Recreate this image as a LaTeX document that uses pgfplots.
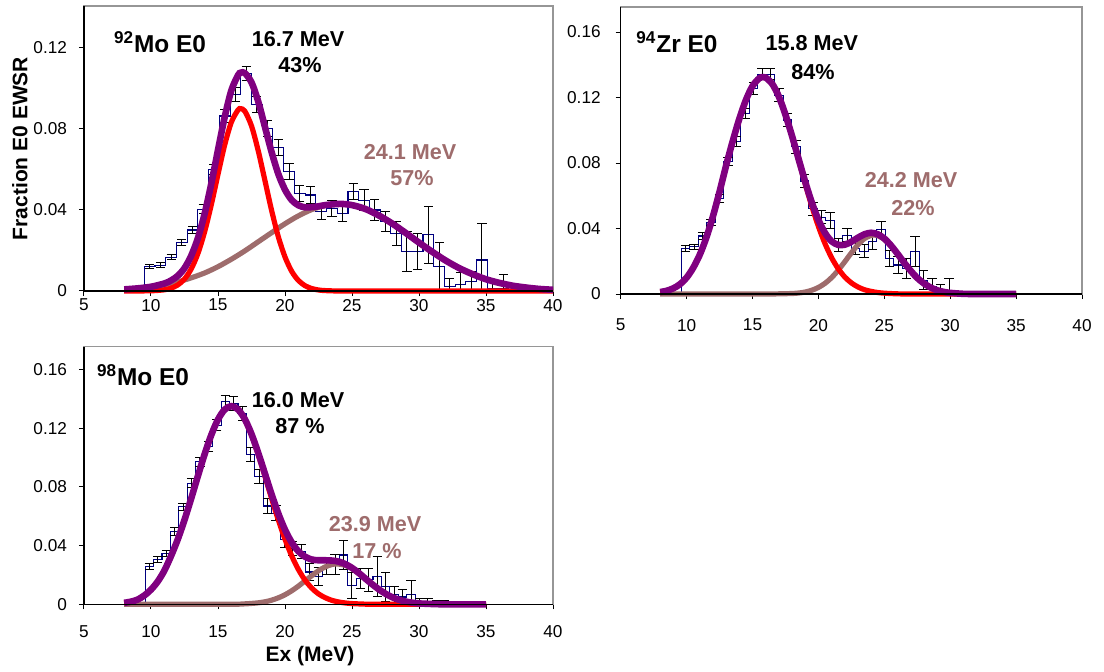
\documentclass[border=0pt]{standalone}
\usepackage{pgfplots}
\pgfplotsset{compat=1.18}
\usepackage{pgfplotstable}
\usepackage{fontspec}
\setmainfont{Liberation Sans}

\definecolor{histblue}{RGB}{0,0,128}
\definecolor{fitred}{RGB}{255,0,0}
\definecolor{fitbrown}{RGB}{158,108,108}
\definecolor{fitpurple}{RGB}{128,0,128}
\definecolor{framegray}{RGB}{150,150,150}

% 92Mo: bins 0.8 MeV wide, E = bin centre, e = error up, m = error down
\pgfplotstableread{
E     v       e       m
9.9   0       0       0
9.9   0.0120  0.0010  0.0010
10.7  0.0128  0.0012  0.0012
11.5  0.0166  0.0012  0.0012
12.3  0.0240  0.0015  0.0015
13.1  0.0301  0.0018  0.0018
13.9  0.0403  0.0022  0.0022
14.7  0.0598  0.0025  0.0025
15.5  0.0864  0.0030  0.0030
16.3  0.0970  0.0035  0.0035
17.1  0.1075  0.0035  0.0035
17.9  0.0920  0.0040  0.0040
18.7  0.0803  0.0040  0.0040
19.5  0.0710  0.0040  0.0040
20.3  0.0589  0.0040  0.0040
21.1  0.0482  0.0040  0.0040
21.9  0.0474  0.0040  0.0040
22.7  0.0392  0.0040  0.0040
23.5  0.0408  0.0040  0.0040
24.3  0.0384  0.0040  0.0040
25.1  0.0491  0.0040  0.0040
25.9  0.0449  0.0050  0.0050
26.7  0.0400  0.0050  0.0050
27.5  0.0342  0.0050  0.0050
28.3  0.0285  0.0060  0.0060
29.1  0.0194  0.0100  0.0100
29.9  0.0194  0.0090  0.0090
30.7  0.0277  0.0140  0.0140
31.5  0.0120  0.0120  0.0120
32.3  0.0020  0.0040  0.0020
33.1  0.0030  0.0060  0.0030
33.9  0.0046  0.0050  0.0046
34.7  0.0153  0.0180  0.0153
35.5  0.0010  0.0030  0.0010
36.3  0.0010  0.0070  0.0010
37.1  0       0       0
}\histMoA

% 94Zr: bins 0.645 MeV wide
\pgfplotstableread{
E       v       e       m
9.92    0       0       0
9.92    0.0279  0.0020  0.0020
10.565  0.0289  0.0015  0.0015
11.21   0.0354  0.0020  0.0020
11.855  0.0436  0.0020  0.0020
12.50   0.0584  0.0025  0.0025
13.145  0.0808  0.0025  0.0025
13.79   0.0930  0.0030  0.0030
14.435  0.1100  0.0030  0.0030
15.08   0.1256  0.0035  0.0035
15.725  0.1343  0.0035  0.0035
16.37   0.1343  0.0035  0.0035
17.015  0.1215  0.0040  0.0040
17.66   0.1063  0.0040  0.0040
18.305  0.0900  0.0040  0.0040
18.95   0.0690  0.0040  0.0040
19.595  0.0520  0.0040  0.0040
20.24   0.0470  0.0040  0.0040
20.885  0.0450  0.0050  0.0050
21.53   0.0300  0.0040  0.0040
22.175  0.0360  0.0040  0.0040
22.82   0.0280  0.0040  0.0040
23.465  0.0260  0.0040  0.0040
24.11   0.0320  0.0050  0.0050
24.755  0.0395  0.0050  0.0050
25.40   0.0218  0.0050  0.0050
26.045  0.0177  0.0050  0.0050
26.69   0.0157  0.0060  0.0060
27.335  0.0260  0.0090  0.0090
27.98   0.0085  0.0060  0.0060
28.625  0.0045  0.0050  0.0045
29.27   0.0020  0.0040  0.0020
29.915  0.0005  0.0090  0.0005
30.56   0       0       0
}\histZr

% 98Mo: bins 0.63 MeV wide
\pgfplotstableread{
E       v       e       m
9.875   0       0       0
9.875   0.0257  0.0020  0.0020
10.505  0.0306  0.0020  0.0020
11.135  0.0347  0.0020  0.0020
11.765  0.0495  0.0025  0.0025
12.395  0.0665  0.0025  0.0025
13.025  0.0824  0.0030  0.0030
13.655  0.0972  0.0030  0.0030
14.285  0.1074  0.0035  0.0035
14.915  0.1221  0.0040  0.0040
15.545  0.1380  0.0045  0.0045
16.175  0.1369  0.0050  0.0050
16.805  0.1301  0.0050  0.0050
17.435  0.1020  0.0050  0.0050
18.065  0.0870  0.0050  0.0050
18.695  0.0670  0.0050  0.0050
19.325  0.0620  0.0050  0.0050
19.955  0.0440  0.0050  0.0050
20.585  0.0380  0.0050  0.0050
21.215  0.0360  0.0050  0.0050
21.845  0.0220  0.0060  0.0060
22.475  0.0190  0.0060  0.0060
23.105  0.0260  0.0060  0.0060
23.735  0.0270  0.0070  0.0070
24.365  0.0336  0.0100  0.0100
24.995  0.0130  0.0090  0.0090
25.625  0.0177  0.0070  0.0070
26.255  0.0166  0.0080  0.0080
26.885  0.0190  0.0135  0.0135
27.515  0.0120  0.0100  0.0100
28.145  0.0064  0.0060  0.0060
28.775  0.0050  0.0050  0.0050
29.405  0.0064  0.0100  0.0064
30.035  0.0010  0.0030  0.0010
30.665  0.0010  0.0030  0.0010
31.295  0.0005  0.0020  0.0005
31.925  0.0005  0.0020  0.0005
32.555  0       0       0
}\histMoB

\tikzset{
  bigtxt/.style={font=\fontsize{12.2}{14}\selectfont\bfseries},
  midtxt/.style={font=\fontsize{10.8}{13}\selectfont\bfseries},
}

\pgfplotsset{
  panel/.style={
    scale only axis, anchor=south west, clip=false,
    xmin=5, xmax=40, ymin=0,
    xtick={5,10,15,20,25,30,35,40},
    xticklabels={5,10,15,20,25,30,35,40},
    tick align=outside, xtick pos=left, ytick pos=left,
    major tick length=2.5pt,
    tick style={black, line width=0.5pt},
    axis line style={framegray, line width=0.6pt},
    ticklabel style={font=\fontsize{8.6}{10}\selectfont},
    /pgf/number format/assume math mode=true,
  },
  hist/.style={histblue, line width=0.55pt, const plot mark left, mark=none},
  errb/.style={draw=none, mark=none,
    error bars/.cd, y dir=both, y explicit,
    error bar style={draw=black, line width=0.5pt},
    error mark options={rotate=90, draw=black, mark size=2.3pt, line width=0.5pt}},
  brownfit/.style={fitbrown, line width=2.6pt, smooth, mark=none},
  redfit/.style={fitred, line width=2.6pt, smooth, mark=none},
  sumfit/.style={fitpurple, line width=3.3pt, smooth, mark=none},
}

\begin{document}
\begin{tikzpicture}
\path[use as bounding box] (0,0) rectangle (552pt,335.5pt);

% ---------- 92Mo ----------
\begin{axis}[panel, at={(42pt,190pt)}, width=234.5pt, height=142.5pt,
  ymax=0.1407, ytick={0,0.04,0.08,0.12}, yticklabels={0,0.04,0.08,0.12},
  xticklabel style={yshift=2pt}, yticklabel style={xshift=-2.5pt},
  ylabel={Fraction E0 EWSR},
  every axis y label/.style={at={(axis description cs:-0.1365,0.5)}, rotate=90, anchor=center,
    font=\fontsize{10.5}{12}\selectfont\bfseries}]
\addplot[hist] table[x expr=\thisrow{E}-0.4, y=v] {\histMoA};
\addplot[errb] table[x=E, y=v, y error plus=e, y error minus=m] {\histMoA};
\addplot[brownfit] coordinates {(8,0.0008)(9,0.0013)(10,0.0020)(11,0.0031)(12,0.0045)(13,0.0065)(14,0.0089)(15,0.0120)(16,0.0157)(17,0.0198)(18,0.0243)(19,0.0288)(20,0.0332)(21,0.0371)(22,0.0402)(23,0.0422)(24.1,0.0430)(25,0.0424)(26,0.0405)(27,0.0373)(28,0.0333)(29,0.0287)(30,0.0239)(31,0.0193)(32,0.0150)(33,0.0113)(34,0.0083)(35,0.0058)(36,0.0040)(37,0.0026)(38,0.0017)(39,0.0010)(40,0.0006)};
\addplot[redfit] coordinates {(8,0)(10,0.0001)(11,0.0006)(11.5,0.0014)(12,0.0030)(12.5,0.0059)(13,0.0109)(13.5,0.0185)(14,0.0292)(14.5,0.0426)(15,0.0576)(15.5,0.0721)(16,0.0834)(16.5,0.0894)(16.7,0.0900)(17,0.0888)(17.5,0.0815)(18,0.0693)(18.5,0.0546)(19,0.0398)(19.5,0.0268)(20,0.0168)(20.5,0.0097)(21,0.0052)(21.5,0.0026)(22,0.0012)(22.5,0.0005)(23,0.0002)(24,0)(26,0)(30,0)(35,0)(40,0)};
\addplot[sumfit] coordinates {(8,0.0008)(9,0.0013)(10,0.0021)(11,0.0037)(11.5,0.0052)(12,0.0075)(12.5,0.0113)(13,0.0174)(13.5,0.0261)(14,0.0381)(14.5,0.0530)(15,0.0696)(15.5,0.0859)(16,0.0991)(16.5,0.1066)(16.7,0.1078)(17,0.1076)(17.5,0.1030)(18,0.0936)(18.5,0.0811)(19,0.0686)(19.5,0.0578)(20,0.0500)(20.5,0.0449)(21,0.0423)(21.5,0.0413)(22,0.0414)(22.5,0.0418)(23,0.0424)(24.1,0.0430)(25,0.0424)(26,0.0405)(27,0.0373)(28,0.0333)(29,0.0287)(30,0.0239)(31,0.0193)(32,0.0150)(33,0.0113)(34,0.0083)(35,0.0058)(36,0.0040)(37,0.0026)(38,0.0017)(39,0.0010)(40,0.0006)};
\draw[black, line width=0.6pt] (rel axis cs:0,1) -- (rel axis cs:0,0) -- (rel axis cs:1,0);
\node[bigtxt] at (axis cs:10.67,0.123) {\textsuperscript{92}Mo E0};
\node[midtxt] at (axis cs:20.97,0.1244) {16.7 MeV};
\node[midtxt] at (axis cs:21.12,0.1116) {43\%};
\node[midtxt, text=fitbrown] at (axis cs:29.33,0.0686) {24.1 MeV};
\node[midtxt, text=fitbrown] at (axis cs:29.48,0.0558) {57\%};
\end{axis}

% ---------- 94Zr ----------
\begin{axis}[panel, at={(310.35pt,188.5pt)}, width=230.65pt, height=143.5pt,
  ymax=0.1753, ytick={0,0.04,0.08,0.12,0.16}, yticklabels={0,0.04,0.08,0.12,0.16},
  xticklabel style={yshift=-6.5pt}, yticklabel style={xshift=-4pt}]
\addplot[hist] table[x expr=\thisrow{E}-0.3225, y=v] {\histZr};
\addplot[errb] table[x=E, y=v, y error plus=e, y error minus=m] {\histZr};
\addplot[brownfit] coordinates {(8,0)(12,0)(16,0)(17,0.0001)(18,0.0003)(18.5,0.0006)(19,0.0012)(19.5,0.0023)(20,0.0040)(20.5,0.0065)(21,0.0100)(21.5,0.0145)(22,0.0197)(22.5,0.0251)(23,0.0301)(23.5,0.0339)(24,0.0358)(24.2,0.0360)(24.5,0.0356)(25,0.0334)(25.5,0.0294)(26,0.0245)(26.5,0.0192)(27,0.0142)(27.5,0.0098)(28,0.0065)(28.5,0.0040)(29,0.0023)(29.5,0.0013)(30,0.0007)(31,0.0001)(32,0)(35,0)};
\addplot[redfit] coordinates {(8,0.0012)(8.5,0.0020)(9,0.0035)(9.5,0.0060)(10,0.0100)(10.5,0.0160)(11,0.0240)(11.5,0.0345)(12,0.0475)(12.5,0.0625)(13,0.0785)(13.5,0.0934)(14,0.1070)(14.5,0.1185)(15,0.1270)(15.5,0.1317)(15.8,0.1325)(16,0.1322)(16.5,0.1283)(17,0.1205)(17.5,0.1095)(18,0.0962)(18.5,0.0818)(19,0.0673)(19.5,0.0536)(20,0.0413)(20.5,0.0308)(21,0.0222)(21.5,0.0155)(22,0.0104)(22.5,0.0068)(23,0.0043)(23.5,0.0026)(24,0.0016)(24.5,0.0009)(25,0.0005)(26,0.0001)(27,0)(30,0)(35,0)};
\addplot[sumfit] coordinates {(8,0.0012)(8.5,0.0020)(9,0.0035)(9.5,0.0060)(10,0.0100)(10.5,0.0160)(11,0.0240)(11.5,0.0345)(12,0.0475)(12.5,0.0625)(13,0.0785)(13.5,0.0934)(14,0.1070)(14.5,0.1185)(15,0.1270)(15.5,0.1317)(15.8,0.1325)(16,0.1322)(16.5,0.1283)(17,0.1206)(17.5,0.1095)(18,0.0965)(18.5,0.0824)(19,0.0685)(19.5,0.0559)(20,0.0453)(20.5,0.0373)(21,0.0322)(21.5,0.0300)(22,0.0301)(22.5,0.0319)(23,0.0344)(23.5,0.0365)(24,0.0374)(24.5,0.0365)(25,0.0339)(25.5,0.0297)(26,0.0246)(26.5,0.0192)(27,0.0142)(27.5,0.0098)(28,0.0065)(28.5,0.0040)(29,0.0023)(29.5,0.0013)(30,0.0007)(31,0.0001)(32,0)(35,0)};
\draw[black, line width=0.6pt] (rel axis cs:0,1) -- (rel axis cs:0,0) -- (rel axis cs:1,0);
\node[bigtxt] at (axis cs:9.27,0.1539) {\textsuperscript{94}Zr E0};
\node[midtxt] at (axis cs:19.51,0.1533) {15.8 MeV};
\node[midtxt] at (axis cs:19.58,0.1356) {84\%};
\node[midtxt, text=fitbrown] at (axis cs:27.03,0.0696) {24.2 MeV};
\node[midtxt, text=fitbrown] at (axis cs:27.18,0.0525) {22\%};
\end{axis}

% ---------- 98Mo ----------
\begin{axis}[panel, at={(42pt,33.35pt)}, width=234.5pt, height=128.8pt,
  ymax=0.1755, ytick={0,0.04,0.08,0.12,0.16}, yticklabels={0,0.04,0.08,0.12,0.16},
  xticklabel style={yshift=-4.5pt}, yticklabel style={xshift=-2.5pt},
  xlabel={Ex (MeV)},
  every axis x label/.style={at={(axis description cs:0.482,-0.2)}, anchor=center,
    font=\fontsize{10.5}{12}\selectfont\bfseries}]
\addplot[hist] table[x expr=\thisrow{E}-0.315, y=v] {\histMoB};
\addplot[errb] table[x=E, y=v, y error plus=e, y error minus=m] {\histMoB};
\addplot[brownfit] coordinates {(8,0)(12,0)(16,0)(17,0.0003)(17.5,0.0006)(18,0.0010)(18.5,0.0017)(19,0.0028)(19.5,0.0044)(20,0.0065)(20.5,0.0092)(21,0.0124)(21.5,0.0160)(22,0.0195)(22.5,0.0229)(23,0.0255)(23.5,0.0271)(23.9,0.0275)(24.5,0.0265)(25,0.0243)(25.5,0.0211)(26,0.0174)(26.5,0.0137)(27,0.0102)(27.5,0.0072)(28,0.0048)(28.5,0.0031)(29,0.0019)(29.5,0.0011)(30,0.0006)(31,0.0002)(32,0)(35,0)};
\addplot[redfit] coordinates {(8,0.0010)(8.5,0.0018)(9,0.0032)(9.5,0.0060)(10,0.0100)(10.5,0.0155)(11,0.0230)(11.5,0.0330)(12,0.0443)(12.5,0.0575)(13,0.0721)(13.5,0.0874)(14,0.1022)(14.5,0.1154)(15,0.1259)(15.5,0.1327)(16,0.1350)(16.5,0.1327)(17,0.1259)(17.5,0.1154)(18,0.1022)(18.5,0.0874)(19,0.0721)(19.5,0.0575)(20,0.0443)(20.5,0.0330)(21,0.0237)(21.5,0.0164)(22,0.0110)(22.5,0.0071)(23,0.0045)(23.5,0.0027)(24,0.0016)(24.5,0.0009)(25,0.0005)(26,0.0001)(27,0)(30,0)(35,0)};
\addplot[sumfit] coordinates {(8,0.0010)(8.5,0.0018)(9,0.0032)(9.5,0.0060)(10,0.0100)(10.5,0.0155)(11,0.0230)(11.5,0.0330)(12,0.0443)(12.5,0.0575)(13,0.0721)(13.5,0.0874)(14,0.1022)(14.5,0.1154)(15,0.1259)(15.5,0.1327)(16,0.1350)(16.5,0.1327)(17,0.1262)(17.5,0.1160)(18,0.1032)(18.5,0.0891)(19,0.0749)(19.5,0.0619)(20,0.0508)(20.5,0.0422)(21,0.0361)(21.5,0.0324)(22,0.0305)(22.5,0.0300)(23,0.0300)(23.5,0.0298)(24,0.0291)(24.5,0.0274)(25,0.0248)(25.5,0.0214)(26,0.0175)(26.5,0.0137)(27,0.0102)(27.5,0.0072)(28,0.0048)(28.5,0.0031)(29,0.0019)(29.5,0.0011)(30,0.0006)(31,0.0002)(32,0)(35,0)};
\draw[black, line width=0.6pt] (rel axis cs:0,1) -- (rel axis cs:0,0) -- (rel axis cs:1,0);
\node[bigtxt] at (axis cs:9.4,0.1563) {\textsuperscript{98}Mo E0};
\node[midtxt] at (axis cs:20.97,0.1392) {16.0 MeV};
\node[midtxt] at (axis cs:21.12,0.1215) {87 \%};
\node[midtxt, text=fitbrown] at (axis cs:26.72,0.0547) {23.9 MeV};
\node[midtxt, text=fitbrown] at (axis cs:26.87,0.0363) {17 \%};
\end{axis}
\end{tikzpicture}
\end{document}
